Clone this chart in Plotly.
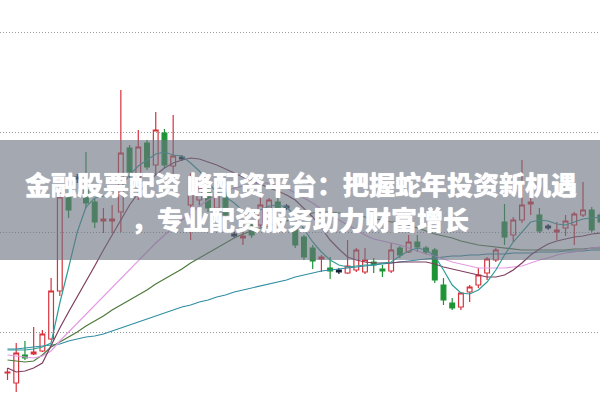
import plotly.graph_objects as go

# candle data (price units)
opens  = [5.59,5.49,5.77,5.78,5.81,5.93,6.41,7.37,None,7.42,7.30,7.11,7.11,7.20,7.84,7.47,7.89,7.67,7.99,7.66,None,7.27,7.32,7.40,7.24,7.40,None,6.94,7.07,7.07,7.24,7.30,None,7.05,6.95,6.84,6.73,6.64,None,6.59,6.62,6.60,6.70,6.63,6.61,6.84,6.80,6.90,6.84,6.82,6.47,6.29,6.25,6.40,6.47,6.59,6.72,7.10,6.97,7.12,7.28,7.17,None,7.00,7.04,7.07,7.17,7.22,7.17]
closes = [5.60,5.79,5.74,5.80,5.98,6.41,7.35,7.22,None,7.29,7.10,7.13,7.13,7.79,7.60,7.85,7.65,8.02,7.67,7.76,None,7.55,7.44,7.24,7.39,7.17,None,6.96,6.97,7.27,7.32,7.24,None,6.87,6.75,6.71,6.75,6.61,None,6.66,6.82,6.72,6.67,6.61,6.82,6.77,6.90,6.85,6.80,6.52,6.32,6.24,6.39,6.45,6.57,6.73,6.82,6.95,7.12,7.27,7.30,7.01,None,7.02,7.11,7.18,7.22,7.02,7.10]
highs  = [5.64,5.89,5.91,6.05,6.02,6.54,7.40,7.47,None,7.80,7.34,7.24,7.27,8.42,7.87,8.02,7.92,8.20,8.03,8.17,None,7.59,7.47,7.44,7.42,7.45,None,7.02,7.12,7.35,7.34,7.34,None,7.10,6.97,6.87,6.77,6.75,None,6.92,6.84,6.84,6.74,6.67,6.89,6.86,6.97,6.97,6.86,6.84,6.54,6.34,6.40,6.47,6.64,6.75,6.84,7.28,7.15,7.72,7.36,7.24,None,7.10,7.17,7.20,7.50,7.25,7.20]
lows   = [5.52,5.40,5.72,5.77,5.80,5.92,6.36,7.14,None,7.24,7.04,6.99,6.99,7.00,7.54,7.32,7.62,7.57,7.64,7.57,None,6.92,7.27,7.20,7.20,7.12,None,6.87,6.94,7.05,7.22,7.20,None,6.84,6.72,6.63,6.60,6.53,None,6.58,6.60,6.58,6.59,6.55,6.59,6.74,6.79,6.80,6.78,6.49,6.27,6.22,6.22,6.30,6.44,6.52,6.70,6.87,6.90,7.09,7.17,6.99,None,6.92,6.96,6.87,7.15,7.00,7.07]

# small dark doji candles
doji_idx   = [8, 20, 26, 32, 38, 62]
doji_open  = [7.55, 7.75, 6.98, 7.26, 6.62, 7.06]
doji_close = [7.53, 7.73, 6.96, 7.24, 6.60, 7.04]
doji_high  = [7.58, 7.77, 7.00, 7.28, 6.64, 7.08]
doji_low   = [7.49, 7.71, 6.94, 7.22, 6.58, 7.02]

ma5  = [5.82,5.82,5.82,5.83,5.85,5.89,6.29,6.64,7.00,7.25,7.34,7.36,7.39,7.45,7.57,7.66,7.72,7.78,7.80,7.77,7.76,7.69,7.61,7.49,7.40,7.35,7.29,7.21,7.18,7.22,7.26,7.27,7.25,7.16,7.03,6.90,6.80,6.72,6.67,6.65,6.66,6.67,6.67,6.69,6.70,6.76,6.81,6.84,6.82,6.76,6.62,6.47,6.39,6.38,6.42,6.50,6.62,6.77,6.90,7.00,7.10,7.12,7.11,7.08,7.07,7.10,7.13,7.14,7.15]
ma10 = [5.64,5.60,5.61,5.64,5.69,5.87,6.04,6.20,6.35,6.51,6.66,6.82,6.97,7.12,7.27,7.39,7.49,7.57,7.64,7.69,7.72,7.74,7.73,7.70,7.67,7.63,7.59,7.55,7.52,7.48,7.44,7.41,7.37,7.32,7.24,7.15,7.04,6.92,6.83,6.75,6.72,6.70,6.69,6.69,6.69,6.70,6.70,6.70,6.70,6.68,6.65,6.63,6.61,6.59,6.57,6.55,6.55,6.57,6.62,6.69,6.77,6.83,6.88,6.91,6.93,6.95,6.96,6.98,6.99]
ma20 = [5.77,5.76,5.75,5.74,5.76,5.81,5.91,6.00,6.09,6.18,6.27,6.36,6.45,6.54,6.63,6.72,6.81,6.89,6.97,7.04,7.12,7.19,7.26,7.32,7.37,7.41,7.44,7.46,7.48,7.49,7.49,7.47,7.44,7.39,7.34,7.29,7.23,7.17,7.12,7.07,7.02,6.97,6.93,6.91,6.89,6.87,6.84,6.81,6.78,6.76,6.73,6.70,6.68,6.66,6.64,6.64,6.64,6.64,6.65,6.66,6.69,6.72,6.74,6.77,6.79,6.80,6.82,6.84,6.85]
ma30 = [5.72,5.71,5.70,5.71,5.77,5.85,5.90,5.95,6.00,6.06,6.11,6.16,6.22,6.27,6.32,6.37,6.42,6.48,6.53,6.58,6.63,6.69,6.74,6.79,6.84,6.89,6.94,6.98,7.01,7.04,7.06,7.09,7.11,7.14,7.17,7.19,7.20,7.20,7.19,7.18,7.17,7.15,7.13,7.12,7.10,7.10,7.07,7.04,7.01,6.98,6.96,6.94,6.91,6.89,6.87,6.86,6.85,6.84,6.83,6.82,6.82,6.82,6.82,6.82,6.82,6.83,6.83,6.84,6.84]
ma60 = [5.83,5.83,5.84,5.85,5.86,5.87,5.88,5.91,5.93,5.95,5.96,5.98,6.01,6.04,6.07,6.10,6.13,6.16,6.19,6.22,6.25,6.27,6.30,6.32,6.35,6.37,6.40,6.42,6.44,6.46,6.48,6.50,6.52,6.55,6.57,6.59,6.61,6.62,6.63,6.64,6.65,6.66,6.67,6.68,6.69,6.70,6.71,6.72,6.73,6.74,6.75,6.76,6.76,6.77,6.77,6.78,6.78,6.78,6.79,6.79,6.79,6.80,6.80,6.80,6.81,6.81,6.81,6.82,6.82]

title_line1 = "金融股票配资 峰配资平台：把握蛇年投资新机遇"
title_line2 = "，专业配资服务助力财富增长"

RED = "#d8323c"
GREEN = "#1f9437"
DARK = "#15233a"

x = list(range(len(opens)))

fig = go.Figure()

ma_styles = [(ma60, "#2f8ea3"), (ma30, "#4d7a3c"), (ma20, "#e39be4"), (ma10, "#7e3d5e"), (ma5, "#2f9e9a")]
for vals, col in ma_styles:
    fig.add_trace(go.Scatter(x=list(range(len(vals))), y=vals, mode="lines",
                             line=dict(color=col, width=1.2), hoverinfo="skip", showlegend=False))

fig.add_trace(go.Candlestick(
    x=x, open=opens, high=highs, low=lows, close=closes,
    increasing=dict(line=dict(color=RED, width=1.2), fillcolor="rgba(255,255,255,0)"),
    decreasing=dict(line=dict(color=GREEN, width=1.2), fillcolor=GREEN),
    whiskerwidth=0, showlegend=False))

fig.add_trace(go.Candlestick(
    x=doji_idx, open=doji_open, high=doji_high, low=doji_low, close=doji_close,
    increasing=dict(line=dict(color=DARK, width=1.2), fillcolor=DARK),
    decreasing=dict(line=dict(color=DARK, width=1.2), fillcolor=DARK),
    whiskerwidth=0, showlegend=False))

title_font = dict(family="Noto Sans CJK SC", size=26, color="white", weight=900,
                  shadow="0px 0px 0.8px #ffffff")

fig.update_layout(
    width=600, height=400,
    margin=dict(l=0, r=0, t=0, b=0),
    paper_bgcolor="white", plot_bgcolor="white",
    showlegend=False,
    boxgap=0.22,
    xaxis=dict(range=[-0.86, 67.95], visible=False, rangeslider=dict(visible=False), fixedrange=True),
    yaxis=dict(range=[5.32, 9.32], tick0=6, dtick=1, showgrid=True, griddash="1px,2px",
               gridcolor="#9a9a9a", gridwidth=1, showticklabels=False, zeroline=False,
               showline=False, ticks="", fixedrange=True),
    shapes=[dict(type="rect", xref="paper", yref="paper", x0=0, x1=1, y0=0.35, y1=0.65,
                 fillcolor="rgba(108,114,128,0.62)", line=dict(width=0), layer="above")],
    annotations=[
        dict(text=title_line1, xref="paper", yref="paper", x=0.502, y=1 - 183/400,
             showarrow=False, font=title_font, xanchor="center", yanchor="middle"),
        dict(text=title_line2, xref="paper", yref="paper", x=0.5, y=1 - 218/400,
             showarrow=False, font=title_font, xanchor="center", yanchor="middle"),
    ],
)

fig.write_html("out.html", config={"displayModeBar": False},
               post_script="document.body.style.margin='0';document.body.style.padding='0';")
